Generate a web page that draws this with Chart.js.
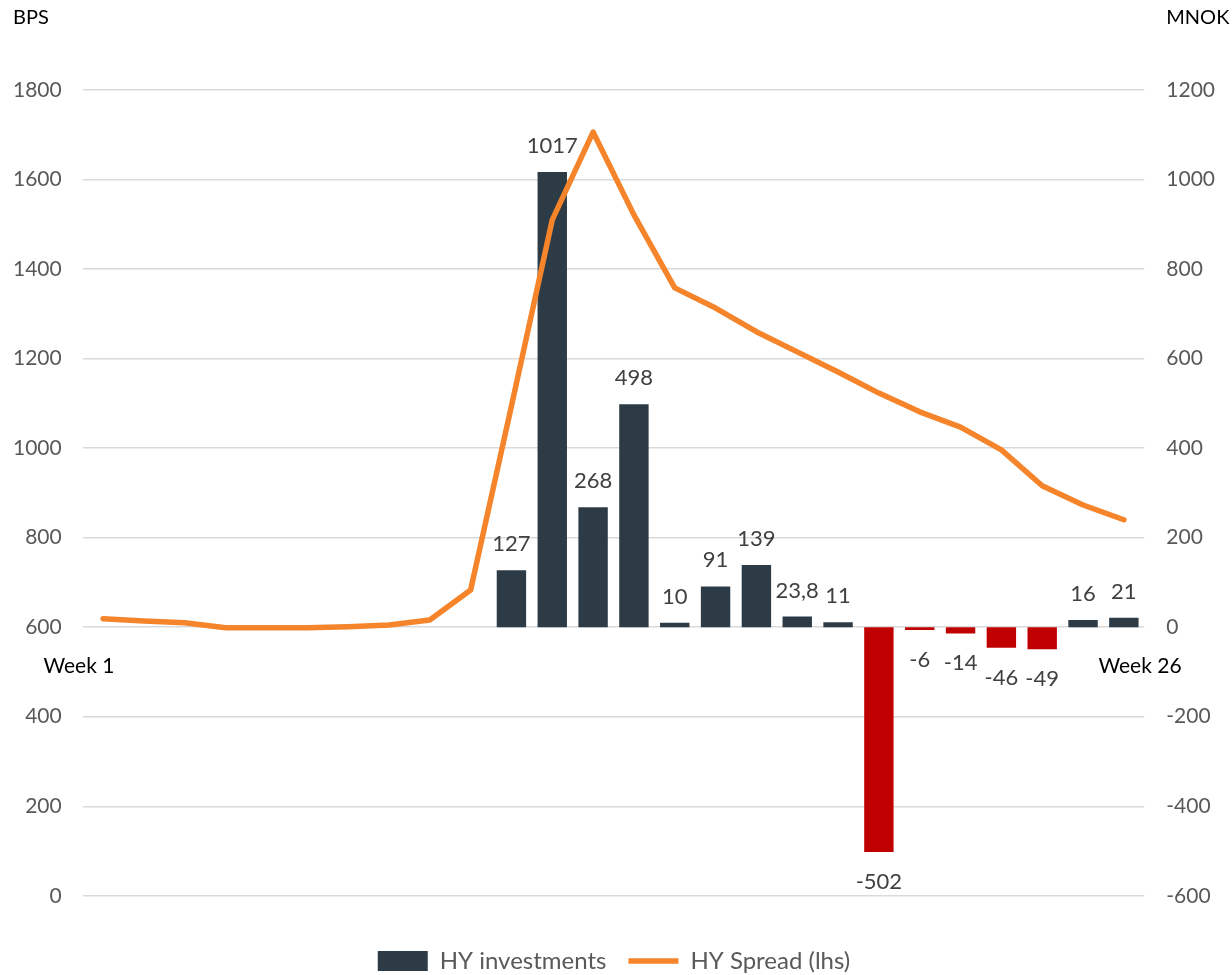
<!DOCTYPE html>
<html>
<head>
<meta charset="utf-8">
<script src="https://cdn.jsdelivr.net/npm/chart.js@4/dist/chart.umd.min.js"></script>
<style>
  html, body { margin: 0; padding: 0; background: #fff; }
  #wrap { width: 1232px; height: 975px; }
</style>
</head>
<body>
<div id="wrap"><canvas id="chart" width="1232" height="975"></canvas></div>
<script>
// Weeks 1..26
const weeks = ['Week 1', 'Week 2', 'Week 3', 'Week 4', 'Week 5', 'Week 6', 'Week 7',
  'Week 8', 'Week 9', 'Week 10', 'Week 11', 'Week 12', 'Week 13', 'Week 14', 'Week 15',
  'Week 16', 'Week 17', 'Week 18', 'Week 19', 'Week 20', 'Week 21', 'Week 22', 'Week 23',
  'Week 24', 'Week 25', 'Week 26'];

// HY investments, MNOK (right axis)
const hyInvestments = [null, null, null, null, null, null, null, null, null, null,
  127, 1017, 268, 498, 10, 91, 139, 23.8, 11, -502, -6, -14, -46, -49, 16, 21];

// HY spread, BPS (left axis)
const hySpread = [619, 614, 610, 599, 599, 599, 601, 605, 616, 683, 1094, 1510, 1706,
  1521, 1358, 1313, 1260, 1215, 1170, 1123, 1081, 1047, 996, 916, 873, 840];

const bpsTicks = [0, 200, 400, 600, 800, 1000, 1200, 1400, 1600, 1800];
const mnokTicks = [-600, -400, -200, 0, 200, 400, 600, 800, 1000, 1200];

const DARK = '#2C3B46';
const RED = '#C00000';
const ORANGE = '#F5842A';
const FONT = 'Lato, "Open Sans", sans-serif';

const fmt = v => String(v).replace('.', ',');

// value labels on bars + axis unit titles
const labelPlugin = {
    id: 'barLabels',
    afterDatasetsDraw(chart) {
        const ctx = chart.ctx;
        const meta = chart.getDatasetMeta(0);
        ctx.save();
        ctx.font = '22px ' + FONT;
        ctx.fillStyle = '#404040';
        ctx.textAlign = 'center';
        ctx.textBaseline = 'alphabetic';
        meta.data.forEach((bar, i) => {
            const v = hyInvestments[i];
            if (v === null) return;
            ctx.fillText(fmt(v), bar.x, v >= 0 ? bar.y - 19 : bar.y + 37);
        });

        ctx.font = '20px ' + FONT;
        ctx.fillStyle = '#000';
        ctx.textBaseline = 'middle';
        ctx.textAlign = 'left';
        ctx.fillText('BPS', chart.scales.yL.left, 18);
        ctx.fillText('MNOK', chart.scales.yR.left + 22, 18);
        ctx.restore();
    }
};

// chart.js reserves tick padding on both sides of a y axis; keep only the inner one
const trimAxis = s => { s.width -= s.options.ticks.padding; };

new Chart(document.getElementById('chart'), {
    type: 'bar',
    data: {
        labels: weeks,
        datasets: [{
            label: 'HY investments',
            data: hyInvestments,
            yAxisID: 'yR',
            order: 1,
            backgroundColor: c => (c.raw < 0 ? RED : DARK),
            borderWidth: 0,
            pointStyle: 'rect'
        }, {
            type: 'line',
            label: 'HY Spread (lhs)',
            data: hySpread,
            yAxisID: 'yL',
            order: 0,
            borderColor: ORANGE,
            backgroundColor: ORANGE,
            borderWidth: 5.5,
            borderCapStyle: 'round',
            borderJoinStyle: 'round',
            pointRadius: 0,
            pointStyle: 'line',
            tension: 0
        }]
    },
    options: {
        responsive: false,
        animation: false,
        layout: { padding: { left: 13, right: 17, top: 90, bottom: -8 } },
        plugins: {
            tooltip: { enabled: false },
            legend: {
                position: 'bottom',
                title: { display: true, text: '', padding: 0, font: { size: 26 } },
                labels: {
                    usePointStyle: true,
                    pointStyleWidth: 50,
                    boxHeight: 20,
                    padding: 22,
                    color: '#595959',
                    font: { family: FONT, size: 24 },
                    sort: (a, b) => a.datasetIndex - b.datasetIndex
                }
            }
        },
        scales: {
            x: {
                position: { yR: 0 },
                grid: { display: false },
                border: { display: false },
                afterFit: s => { s.paddingLeft = 0; s.paddingRight = 0; },
                ticks: {
                    autoSkip: false,
                    maxRotation: 0,
                    minRotation: 0,
                    padding: 18,
                    color: '#000',
                    font: { family: FONT, size: 21 },
                    callback: function (val, i) {
                        if (i === 0) return weeks[i] + '         ';
                        if (i === weeks.length - 1) return '      ' + weeks[i];
                        return '';
                    }
                }
            },
            yL: {
                position: 'left',
                min: bpsTicks[0],
                max: bpsTicks[bpsTicks.length - 1],
                afterBuildTicks: s => { s.ticks = bpsTicks.map(v => ({ value: v })); },
                afterFit: trimAxis,
                grid: { color: '#d9d9d9', lineWidth: 1.5, drawTicks: false },
                border: { display: false },
                ticks: {
                    padding: 21, color: '#595959', font: { family: FONT, size: 21 },
                    callback: v => String(v)
                }
            },
            yR: {
                position: 'right',
                min: mnokTicks[0],
                max: mnokTicks[mnokTicks.length - 1],
                afterBuildTicks: s => { s.ticks = mnokTicks.map(v => ({ value: v })); },
                afterFit: trimAxis,
                grid: { display: false, drawTicks: false },
                border: { display: false },
                ticks: {
                    padding: 22, color: '#595959', font: { family: FONT, size: 21 },
                    callback: v => String(v)
                }
            }
        }
    },
    plugins: [labelPlugin]
});
</script>
</body>
</html>
